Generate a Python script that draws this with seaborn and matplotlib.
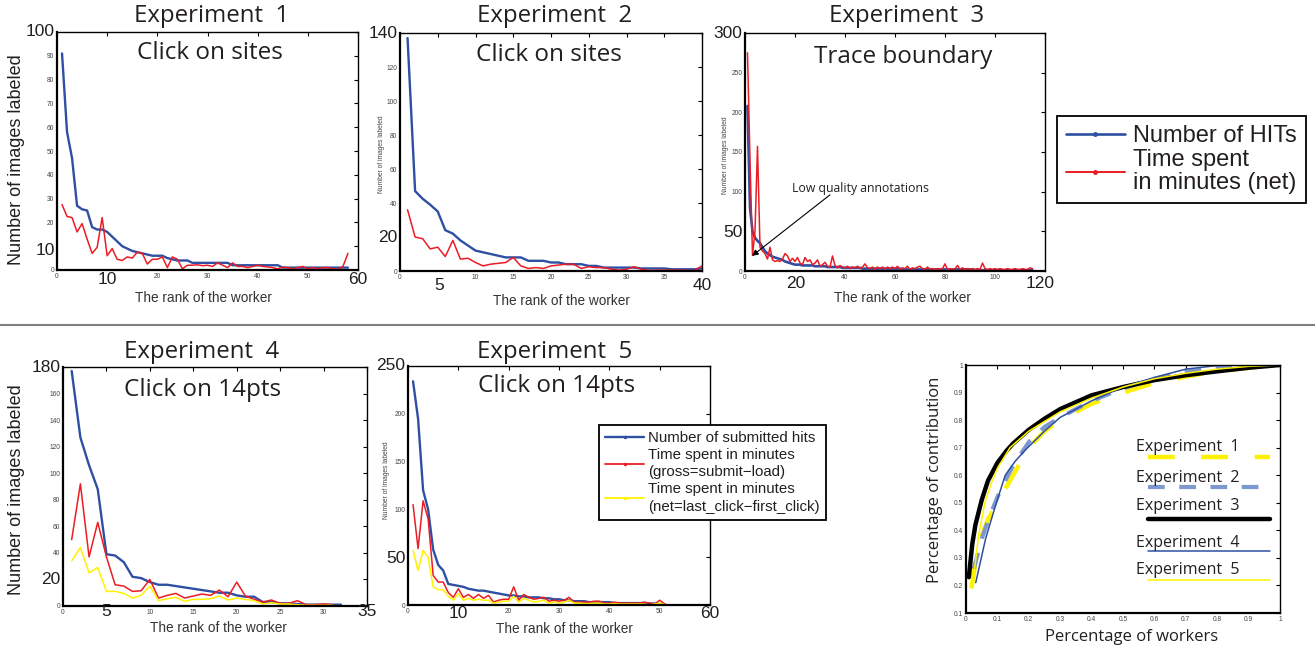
import matplotlib
matplotlib.use("Agg")
import matplotlib.pyplot as plt
import matplotlib.transforms as mtransforms
from matplotlib.lines import Line2D
import seaborn as sns

# ---------------- datos ----------------
# Experimento 1 (click on sites)
hits1 = [91, 58, 47, 27, 25.5, 25, 18, 17, 17, 16,
         14, 12, 10, 9, 8, 7.5, 7, 6.5, 6, 6,
         6, 5, 4.5, 4, 4, 4, 3, 3, 3, 3,
         3, 3, 3, 3, 2, 2, 2, 2, 2, 2,
         2, 2, 2, 2, 1, 1, 1, 1, 1, 1,
         1, 1, 1, 1, 1, 1, 1, 1]
time1 = [27.5, 22.5, 22, 16, 19.5, 13, 7, 9.5, 22, 6,
         9, 4.5, 4, 5.5, 5, 7.5, 7, 2.5, 4.5, 4.5,
         5.5, 1, 5.5, 4.5, 0.5, 2, 2, 2.2, 1.8, 2,
         1.5, 3, 2, 1, 3, 1.5, 1.5, 1, 1.5, 2,
         1.5, 1.3, 1, 0.5, 1.2, 1, 0.5, 1, 1.5, 0.5,
         1, 0.5, 1, 1, 0.5, 0.3, 1.5, 7]

# Experimento 2 (click on sites)
hits2 = [137, 47, 42.5, 39, 35, 24, 22, 18, 15, 12,
         11, 10, 9, 8, 8, 8, 6, 6, 6, 5,
         5, 4, 4, 4, 3, 3, 2, 2, 2, 2,
         2, 1.5, 1.5, 1.5, 1.5, 1, 1, 1, 1, 1.5]
time2 = [36, 20, 19, 13, 14, 8.5, 18, 7, 7.5, 5,
         3, 4, 4.5, 5, 8, 3, 1.5, 2, 1.5, 3,
         3.5, 4, 4, 1.5, 2.5, 2, 2, 1, 0.5, 1,
         2.5, 1, 0.3, 0.5, 0.5, 0.5, 0.5, 0.3, 0.3, 3]

# Experimento 3 (trace boundary)
hits3 = [208, 80, 50, 42, 38, 35, 30, 25, 22, 20,
         18, 17, 16, 15, 14, 12, 11, 10, 9, 8,
         8, 8, 7, 7, 7, 7, 7, 6, 6, 6,
         6, 6, 5, 5, 5, 5, 5, 5, 4, 4,
         4, 4, 4, 4, 4, 4, 3, 3, 3, 3,
         3, 3, 3, 3, 3, 3, 3, 3, 3, 3,
         3, 3, 2, 2, 2, 2, 2, 2, 2, 2,
         2, 2, 2, 2, 2, 2, 2, 2, 2, 2,
         2, 2, 2, 2, 2, 2, 2, 2, 2, 2,
         2, 1, 1, 1, 1, 1, 1, 1, 1, 1,
         1, 1, 1, 1, 1, 1, 1, 1, 1, 1,
         1, 1, 1, 1, 1]
time3 = [275, 140, 20, 50, 157, 30, 25, 22, 15, 30,
         14, 12, 13, 12, 15, 22, 19, 12, 16, 12,
         17, 10, 8, 17, 12, 14, 8, 10, 14, 6,
         8, 11, 6, 5, 19, 7, 4, 7, 5, 4,
         6, 3, 5, 4, 6, 3, 5, 9, 4, 3,
         5, 2, 5, 3, 5, 2, 5, 3, 5, 3,
         6, 2, 4, 3, 6, 2, 4, 3, 5, 6,
         3, 2, 5, 2, 3, 2, 3, 2, 3, 9,
         2, 3, 2, 3, 7, 2, 4, 2, 3, 2,
         3, 2, 3, 2, 10, 3, 2, 3, 2, 3,
         2, 3, 2, 2, 3, 2, 2, 3, 2, 2,
         3, 2, 2, 4, 3]

# Experimento 4 (click on 14pts)
hits4 = [177, 127, 106, 88, 39, 38, 33, 22, 21, 18,
         16, 16, 15, 14, 13, 12, 11, 10, 10, 8,
         7, 7, 3, 3, 2, 2, 1.5, 1, 1, 1, 1, 1]
gross4 = [50, 92, 37, 63, 37, 16, 15, 11, 11.5, 20,
          6, 8, 9.5, 6, 7.5, 9, 8, 12, 7, 18,
          7.5, 5, 3, 4.5, 2, 2, 4, 1, 1, 1.5, 1]
net4 = [34, 44, 25, 29, 11, 11, 9.5, 6, 8, 15,
        4, 5.5, 6.5, 3.5, 5, 5, 5.5, 7.5, 4.5, 6,
        5, 4, 1.5, 2.5, 1.5, 1.5, 1, 0.5, 0.5, 0.5, 0.5]

# Experimento 5 (click on 14pts)
hits5 = [234, 195, 120, 100, 58, 42, 36, 22, 21, 20,
         19, 17, 16, 15, 15, 14, 13, 12, 11, 10,
         10, 9, 9, 8, 8, 8, 7, 7, 6, 6,
         5, 5, 4, 4, 4, 3, 3, 3, 3, 3,
         2, 2, 2, 2, 2, 2, 2, 1.5, 1.5, 1, 1]
gross5 = [105, 59, 109, 90, 31, 24, 24, 13, 8, 17,
          8, 11, 7, 11, 7, 10, 3, 5, 6, 6,
          19, 5, 11, 8, 6, 7, 8, 4, 5, 4,
          5, 8, 3, 3, 3, 3, 4, 4, 2, 2,
          3, 2, 2, 2, 2, 2, 3, 2, 1, 5, 1]
net5 = [57, 36, 57, 50, 19, 16, 16, 9, 5, 12,
        5, 7, 5, 6, 5, 5, 2, 3, 4, 4,
        9, 3, 7, 5, 3, 4, 5, 2, 3, 2,
        3, 5, 2, 2, 1.5, 1.5, 2, 2, 1, 1,
        1.5, 1, 1, 1, 1, 1, 1, 0, 1, 2, 0.5]

# Curvas acumuladas (porcentaje de trabajadores vs contribucion)
acum1_x = [0.017, 0.03, 0.05, 0.07, 0.1, 0.15, 0.2, 0.25, 0.3, 0.4, 0.5, 0.6, 0.7, 0.8, 0.9, 1.0]
acum1_y = [0.19, 0.28, 0.38, 0.44, 0.50, 0.60, 0.70, 0.76, 0.80, 0.86, 0.90, 0.935, 0.958, 0.978, 0.99, 1.0]
acum2_x = [0.025, 0.05, 0.075, 0.1, 0.125, 0.15, 0.2, 0.25, 0.3, 0.4, 0.5, 0.6, 0.7, 0.8, 0.9, 1.0]
acum2_y = [0.26, 0.37, 0.45, 0.52, 0.58, 0.635, 0.72, 0.775, 0.81, 0.87, 0.915, 0.95, 0.975, 0.99, 0.997, 1.0]
acum3_x = [0.009, 0.02, 0.03, 0.05, 0.07, 0.1, 0.13, 0.15, 0.2, 0.25, 0.3, 0.4, 0.5, 0.6, 0.7, 0.8, 0.9, 1.0]
acum3_y = [0.23, 0.35, 0.42, 0.51, 0.58, 0.645, 0.69, 0.715, 0.765, 0.805, 0.84, 0.89, 0.92, 0.945, 0.963, 0.977, 0.99, 1.0]
acum4_x = [0.031, 0.0625, 0.094, 0.125, 0.156, 0.1875, 0.25, 0.3, 0.4, 0.5, 0.6, 0.7, 0.8, 0.9, 1.0]
acum4_y = [0.21, 0.37, 0.49, 0.60, 0.65, 0.69, 0.76, 0.81, 0.87, 0.92, 0.955, 0.985, 0.998, 1.0, 1.0]
acum5_x = [0.02, 0.04, 0.06, 0.08, 0.1, 0.14, 0.2, 0.3, 0.4, 0.5, 0.6, 0.7, 0.8, 0.9, 1.0]
acum5_y = [0.19, 0.38, 0.50, 0.57, 0.625, 0.70, 0.76, 0.83, 0.88, 0.92, 0.95, 0.97, 0.985, 0.995, 1.0]

# ---------------- estilo ----------------
AZUL = "#2f4fa2"
ROJO = "#ec1c24"
AMARILLO = "#fff200"
AZUL_CLARO = "#7d97cf"
NEGRO = "#231f20"
GRIS = "#444444"
MYRIAD = ["Open Sans", "DejaVu Sans"]

sns.set_style("white")
plt.rcParams["font.family"] = ["Liberation Sans", "DejaVu Sans"]

W, H = 1315, 649
fig = plt.figure(figsize=(W / 100, H / 100), dpi=100)


def caja(x0, y0, x1, y1):
    # pixeles (origen arriba-izquierda) -> fraccion de figura
    return [x0 / W, 1 - y1 / H, (x1 - x0) / W, (y1 - y0) / H]


def texto(x, y, s, **kw):
    kw.setdefault("ha", "center")
    kw.setdefault("va", "center")
    kw.setdefault("color", NEGRO)
    fig.text(x / W, 1 - y / H, s, **kw)


def preparar(ax, xlim, xticks, xlab, ylim, yticks, ylab):
    ax.set_xlim(xlim)
    ax.set_ylim(ylim)
    ax.set_xticks(xticks)
    ax.set_xticklabels(xlab)
    ax.set_yticks(yticks)
    ax.set_yticklabels(ylab)
    ax.set_xlabel("")
    ax.set_ylabel("")
    ax.tick_params(direction="in", top=True, right=True, length=3, width=0.8,
                   labelsize=4.8, labelcolor=GRIS, pad=2, color="black")
    for s in ["left", "bottom"]:
        ax.spines[s].set_linewidth(1.6)
        ax.spines[s].set_color("black")
    for s in ["top", "right"]:
        ax.spines[s].set_linewidth(1.0)
        ax.spines[s].set_color("black")


def grandes(ax, ys, xs, dy_px, alto_px):
    # numeros grandes superpuestos a los ejes
    ty = mtransforms.blended_transform_factory(ax.transAxes, ax.transData)
    tx = mtransforms.blended_transform_factory(ax.transData, ax.transAxes)
    for v, s in ys:
        ax.text(-0.008, v, s, transform=ty, ha="right", va="center", fontsize=12.5,
                color=NEGRO, clip_on=False)
    for v, s in xs:
        ax.text(v, -dy_px / alto_px, s, transform=tx, ha="center", va="center",
                fontsize=12.5, color=NEGRO, clip_on=False)


def rango(n):
    return list(range(1, n + 1))


# ---------------- Experimento 1 ----------------
ax1 = fig.add_axes(caja(57, 32, 358, 270))
sns.lineplot(x=rango(len(hits1)), y=hits1, ax=ax1, color=AZUL, lw=1.7)
sns.lineplot(x=rango(len(time1)), y=time1, ax=ax1, color=ROJO, lw=1.1)
preparar(ax1, (0, 60), range(0, 61, 10), ["0", "", "20", "30", "40", "50", ""],
         (0, 100), range(0, 101, 10), ["0", "", "20", "30", "40", "50", "60", "70", "80", "90", ""])
grandes(ax1, [(100, "100"), (8, "10")], [(10, "10"), (60, "60")], 10, 238)

# ---------------- Experimento 2 ----------------
ax2 = fig.add_axes(caja(400, 33, 702, 271))
sns.lineplot(x=rango(len(hits2)), y=hits2, ax=ax2, color=AZUL, lw=1.7)
sns.lineplot(x=rango(len(time2)), y=time2, ax=ax2, color=ROJO, lw=1.1)
preparar(ax2, (0, 40), range(0, 41, 5), ["0", "", "10", "15", "20", "25", "30", "35", ""],
         (0, 140), range(0, 141, 20), ["0", "", "40", "60", "80", "100", "120", ""])
grandes(ax2, [(140, "140"), (20, "20")], [(5.2, "5"), (40, "40")], 14, 238)

# ---------------- Experimento 3 ----------------
ax3 = fig.add_axes(caja(745, 33, 1045, 271))
sns.lineplot(x=rango(len(hits3)), y=hits3, ax=ax3, color=AZUL, lw=1.9)
sns.lineplot(x=rango(len(time3)), y=time3, ax=ax3, color=ROJO, lw=1.1)
preparar(ax3, (0, 120), range(0, 121, 20), ["0", "", "40", "60", "80", "100", ""],
         (0, 300), range(0, 301, 50), ["0", "", "100", "150", "200", "250", ""])
grandes(ax3, [(300, "300"), (48, "50")], [(20.4, "20"), (118, "120")], 12, 238)
ax3.annotate("", xy=(2.8, 19), xytext=(34, 96),
             arrowprops=dict(arrowstyle="-|>", color="black", lw=0.8,
                             mutation_scale=9, shrinkA=0, shrinkB=0))
ax3.text(18.6, 104, "Low quality annotations", ha="left", va="center",
         fontsize=8.8, family=MYRIAD, color=NEGRO)

# leyenda superior derecha
h_azul = Line2D([], [], color=AZUL, lw=1.9, marker=".", markersize=5)
h_rojo = Line2D([], [], color=ROJO, lw=1.4, marker=".", markersize=5)
leg1 = fig.legend([h_azul, h_rojo], ["Number of HITs", "Time spent\nin minutes (net)"],
                  loc="upper left", bbox_to_anchor=(1057 / W, 1 - 116 / H),
                  bbox_transform=fig.transFigure, fontsize=17, frameon=True,
                  fancybox=False, framealpha=1, edgecolor="black", handlelength=2.5,
                  handletextpad=0.35, borderpad=0.38, labelspacing=0.1,
                  borderaxespad=0, numpoints=1)
leg1.get_frame().set_linewidth(1.3)
for t in leg1.get_texts():
    t.set_color(NEGRO)
    t.set_linespacing(1.05)

# ---------------- Experimento 4 ----------------
ax4 = fig.add_axes(caja(63, 367, 367, 606))
sns.lineplot(x=rango(len(hits4)), y=hits4, ax=ax4, color=AZUL, lw=1.7)
sns.lineplot(x=rango(len(gross4)), y=gross4, ax=ax4, color=ROJO, lw=1.1)
sns.lineplot(x=rango(len(net4)), y=net4, ax=ax4, color=AMARILLO, lw=1.1)
preparar(ax4, (0, 35), range(0, 36, 5), ["0", "", "10", "15", "20", "25", "30", ""],
         (0, 180), range(0, 181, 20), ["0", "", "40", "60", "80", "100", "120", "140", "160", ""])
grandes(ax4, [(180, "180"), (20, "20")], [(4.95, "5"), (35, "35")], 6, 239)

# ---------------- Experimento 5 ----------------
ax5 = fig.add_axes(caja(408, 366, 710, 605))
sns.lineplot(x=rango(len(hits5)), y=hits5, ax=ax5, color=AZUL, lw=1.7)
sns.lineplot(x=rango(len(gross5)), y=gross5, ax=ax5, color=ROJO, lw=1.1)
sns.lineplot(x=rango(len(net5)), y=net5, ax=ax5, color=AMARILLO, lw=1.1)
preparar(ax5, (0, 60), range(0, 61, 10), ["0", "", "20", "30", "40", "50", ""],
         (0, 250), range(0, 251, 50), ["0", "", "100", "150", "200", ""])
grandes(ax5, [(250, "250"), (49, "50")], [(9.9, "10"), (60, "60")], 9, 239)

h_a = Line2D([], [], color=AZUL, lw=1.7, marker=".", markersize=3)
h_r = Line2D([], [], color=ROJO, lw=1.3, marker=".", markersize=3)
h_y = Line2D([], [], color=AMARILLO, lw=1.3, marker=".", markersize=3)
leg2 = fig.legend([h_a, h_r, h_y],
                  ["Number of submitted hits",
                   "Time spent in minutes\n(gross=submit\u2212load)",
                   "Time spent in minutes\n(net=last_click\u2212first_click)"],
                  loc="upper left", bbox_to_anchor=(599 / W, 1 - 425 / H),
                  bbox_transform=fig.transFigure, fontsize=10.8, frameon=True,
                  fancybox=False, framealpha=1, edgecolor="black", handlelength=2.6,
                  handletextpad=0.27, borderpad=0.4, labelspacing=0.2,
                  borderaxespad=0, numpoints=1)
leg2.get_frame().set_linewidth(1.3)
for t in leg2.get_texts():
    t.set_color(NEGRO)
    t.set_linespacing(1.3)

# ---------------- Curvas acumuladas ----------------
ax6 = fig.add_axes(caja(966, 365, 1280, 613))
sns.lineplot(x=acum1_x, y=acum1_y, ax=ax6, color=AMARILLO, lw=3.2)
ax6.lines[-1].set_dashes([6, 6])
sns.lineplot(x=acum2_x, y=acum2_y, ax=ax6, color=AZUL_CLARO, lw=3.0)
ax6.lines[-1].set_dashes([4, 3.5])
sns.lineplot(x=acum3_x, y=acum3_y, ax=ax6, color="black", lw=3.2)
sns.lineplot(x=acum4_x, y=acum4_y, ax=ax6, color=AZUL, lw=1.1)
sns.lineplot(x=acum5_x, y=acum5_y, ax=ax6, color=AMARILLO, lw=1.1)
ticks = [i / 10 for i in range(11)]
preparar(ax6, (0, 1), ticks, ["0"] + [f"{t:g}" for t in ticks[1:-1]] + ["1"],
         (0.1, 1), ticks[1:], [f"{t:g}" for t in ticks[1:-1]] + ["1"])

# leyenda propia dentro del panel
claves = [("Experiment  1", 0.67, 0.629, AMARILLO, 3.2, [6, 6]),
          ("Experiment  2", 0.546, 0.509, AZUL_CLARO, 3.0, [4, 3.5]),
          ("Experiment  3", 0.431, 0.378, "black", 3.2, None),
          ("Experiment  4", 0.284, 0.25, AZUL, 1.1, None),
          ("Experiment  5", 0.173, 0.133, AMARILLO, 1.1, None)]
for nombre, yt, yl, col, lw, dash in claves:
    ax6.text(0.54, yt, nombre, transform=ax6.transAxes, ha="left", va="center",
             fontsize=11.5, family=MYRIAD, color=NEGRO)
    ln = Line2D([0.58, 0.968], [yl, yl], transform=ax6.transAxes, color=col, lw=lw)
    if dash:
        ln.set_dashes(dash)
    ax6.add_line(ln)

texto(935, 480, "Percentage of contribution", rotation=90, fontsize=12, family=MYRIAD)
texto(1132, 637, "Percentage of workers", fontsize=12, family=MYRIAD)

# ---------------- titulos y etiquetas ----------------
for x, y, s in [(212, 16, "Experiment  1"), (555, 16, "Experiment  2"),
                (907, 16, "Experiment  3"), (202, 352, "Experiment  4"),
                (555, 352, "Experiment  5")]:
    texto(x, y, s, fontsize=17.3, family=MYRIAD)
for x, y, s in [(210, 53, "Click on sites"), (549, 55, "Click on sites"),
                (903, 57, "Trace boundary"), (203, 390, "Click on 14pts"),
                (557, 386, "Click on 14pts")]:
    texto(x, y, s, fontsize=17.5, family=MYRIAD)

for x, y in [(203, 298), (561, 301), (902, 298), (218, 628), (564, 629)]:
    texto(x, y, "The rank of the worker", fontsize=9.8, color="#333333")

texto(17, 160, "Number of images labeled", rotation=90, fontsize=13)
texto(17, 490, "Number of images labeled", rotation=90, fontsize=13)
for x, y in [(381, 154), (725, 155), (386, 480)]:
    texto(x, y, "Number of images labeled", rotation=90, fontsize=4.8, color=GRIS)

# linea divisoria
fig.add_artist(Line2D([0, 1], [1 - 325 / H, 1 - 325 / H], transform=fig.transFigure,
                      color="#808080", lw=1.5))

fig.savefig("out.png", dpi=100)
